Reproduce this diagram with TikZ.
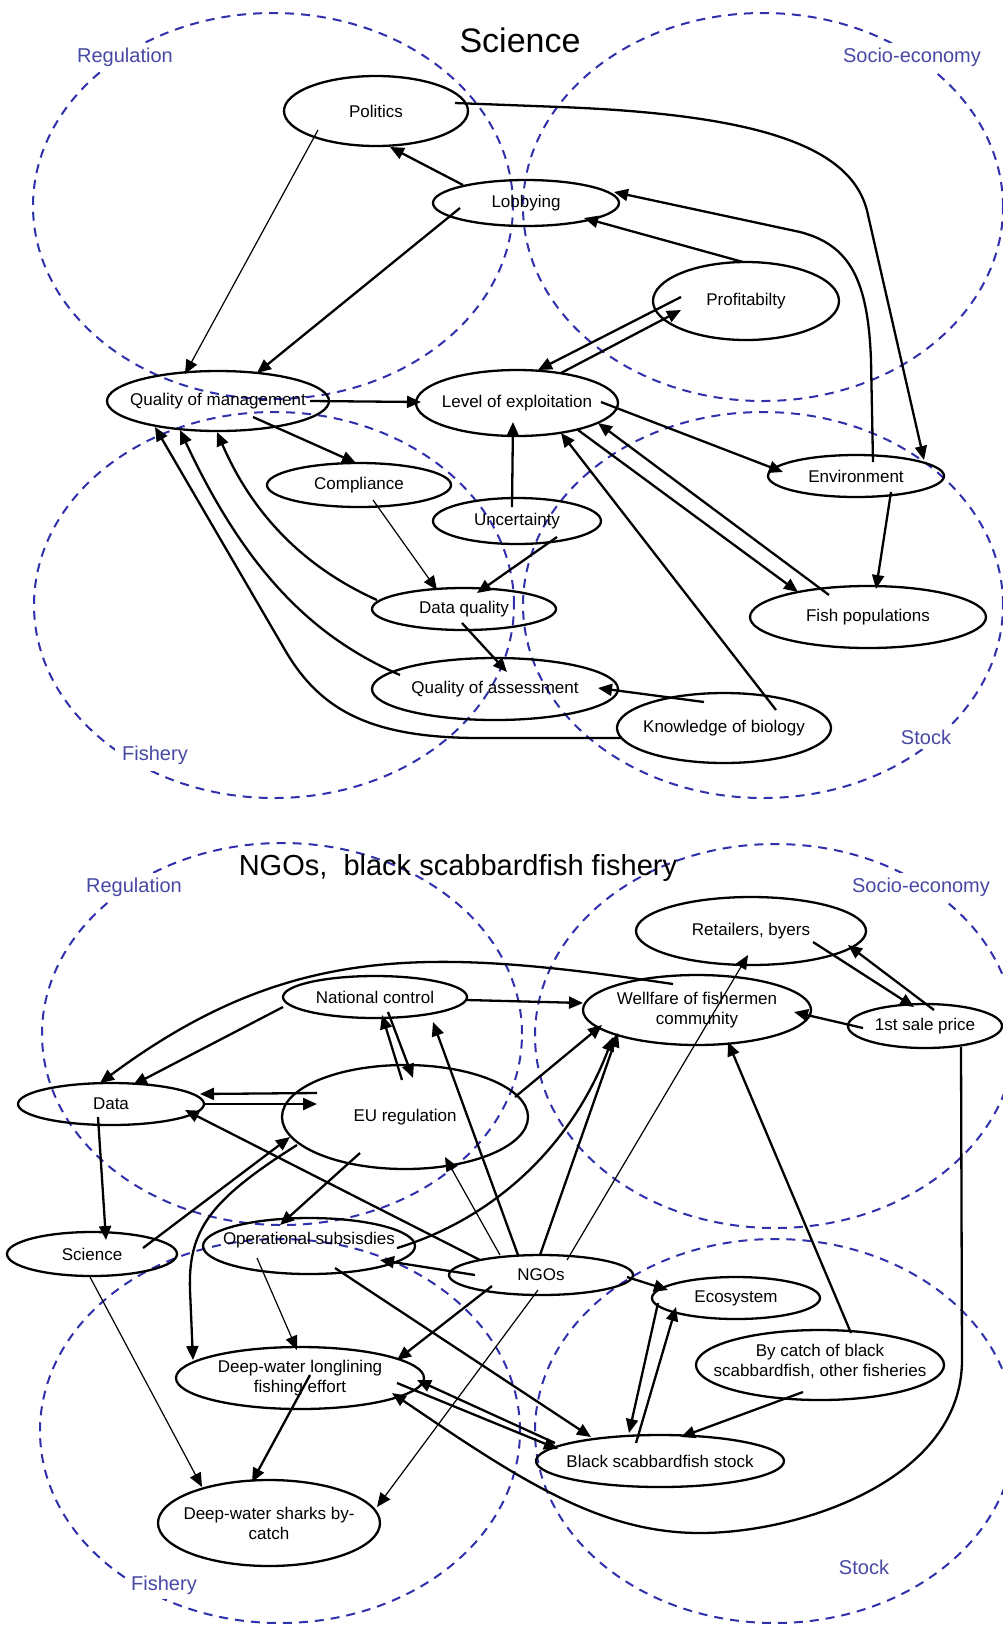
\documentclass[tikz,border=0pt]{standalone}
\usepackage{fontspec}
\setmainfont{Liberation Sans}
\usetikzlibrary{arrows.meta,shapes.geometric,calc}
\definecolor{zonecol}{RGB}{48,48,172}
\definecolor{labcol}{RGB}{72,72,165}
\newcommand{\ndfont}{\fontsize{17}{20}\selectfont}
\begin{document}
\begin{tikzpicture}[x=1pt,y=-1pt,
  nd/.style={draw, ellipse, line width=2.3pt, inner sep=0pt},
  lbl/.style={font=\ndfont, align=center, inner sep=0pt},
  arr/.style={line width=2.3pt, -{Triangle[length=14pt,width=12pt]}},
  tarr/.style={line width=1.2pt, -{Triangle[length=14pt,width=12pt]}},
  zone/.style={draw=zonecol, line width=2pt, dash pattern=on 9pt off 7pt},
  zlab/.style={text=labcol, fill=white, font=\fontsize{20}{24}\selectfont, inner sep=5pt},
  ttl/.style={font=\fontsize{34}{40}\selectfont, inner sep=0pt},
  ttlb/.style={font=\fontsize{29}{34}\selectfont, inner sep=0pt},
]
\useasboundingbox (0,0) rectangle (1002,1626);
\fill[white] (0,0) rectangle (1002,1626);

% ---------- zones ----------
\draw[zone] (273,206) ellipse [x radius=240pt, y radius=193pt];
\draw[zone] (763,207) ellipse [x radius=240pt, y radius=194pt];
\draw[zone] (274,605) ellipse [x radius=240pt, y radius=193pt];
\draw[zone] (763,605) ellipse [x radius=240pt, y radius=193pt];
\draw[zone] (282,1034) ellipse [x radius=240pt, y radius=191pt];
\draw[zone] (775,1036) ellipse [x radius=240pt, y radius=192pt];
\draw[zone] (280,1431) ellipse [x radius=240pt, y radius=192pt];
\draw[zone] (775,1431) ellipse [x radius=240pt, y radius=192pt];

\node[zlab] (zreg1) at (125,57) {Regulation};
\node[zlab] (zsoc1) at (912,57) {Socio-economy};
\node[zlab, inner sep=7pt] (zfis1) at (155,755) {Fishery};
\node[zlab] (zsto1) at (926,737) {Stock};
\node[zlab] (zreg2) at (134,887) {Regulation};
\node[zlab] (zsoc2) at (921,887) {Socio-economy};
\node[zlab] (zfis2) at (164,1585) {Fishery};
\node[zlab] (zsto2) at (864,1567) {Stock};
\node[ttl] (ttl1) at (520,40) {Science};
\node[ttlb] (ttl2) at (458,868) {NGOs,\ \ black scabbardfish fishery};

% ---------- top nodes ----------
\node[nd, minimum width=184pt, minimum height=70pt, label={[lbl]center:Politics}] (pol) at (376,111) {};
\node[nd, minimum width=186pt, minimum height=46pt, label={[lbl]center:Lobbying}] (lob) at (526,203) {};
\node[nd, minimum width=186pt, minimum height=78pt, label={[lbl]center:Profitabilty}] (prof) at (746,301) {};
\node[nd, minimum width=222pt, minimum height=60pt, label={[lbl]center:Quality of management}] (qom) at (218,401) {};
\node[nd, minimum width=202pt, minimum height=66pt, label={[lbl]center:Level of exploitation}] (loe) at (517,403) {};
\node[nd, minimum width=176pt, minimum height=42pt, label={[lbl]center:Environment}] (env) at (856,476) {};
\node[nd, minimum width=184pt, minimum height=44pt, label={[lbl]center:Compliance}] (comp) at (359,485) {};
\node[nd, minimum width=168pt, minimum height=46pt, label={[lbl]center:Uncertainty}] (unc) at (517,521) {};
\node[nd, minimum width=184pt, minimum height=42pt, label={[lbl]center:Data quality}] (dq) at (464,609) {};
\node[nd, minimum width=236pt, minimum height=62pt, label={[lbl]center:Fish populations}] (fp) at (868,617) {};
\node[nd, minimum width=246pt, minimum height=62pt, label={[lbl]center:Quality of assessment}] (qoa) at (495,689) {};
\node[nd, minimum width=214pt, minimum height=70pt, label={[lbl]center:Knowledge of biology}] (kob) at (724,728) {};

% ---------- top connectors ----------
\draw[tarr] ($(pol)+(-58,19)$) -- ($(qom)+(-33,-27)$);
\draw[arr] ($(lob)+(-63,-18)$) -- ($(pol)+(14,36)$);
\draw[arr] ($(lob)+(-66,5)$) -- ($(qom)+(39,-28)$);
\draw[arr] ($(pol)+(79,-8)$) -- (560,107) .. controls (770,115) and (855,150) .. (868,215) -- ($(env)+(68,-16)$);
\draw[arr] ($(env)+(17,-14)$) -- (871,360) .. controls (868,280) and (850,245) .. (800,232) -- ($(lob)+(88,-11)$);
\draw[arr] ($(prof)+(-3,-39)$) -- ($(lob)+(58,15)$);
\draw[arr] ($(loe)+(44,-30)$) -- ($(prof)+(-65,9)$);
\draw[arr] ($(prof)+(-65,-4)$) -- ($(loe)+(21,-33)$);
\draw[arr] ($(qom)+(92,0)$) -- ($(loe)+(-96,-1)$);
\draw[arr] ($(qom)+(35,16)$) -- ($(comp)+(-3,-22)$);
\draw[tarr] ($(comp)+(14,15)$) -- ($(dq)+(-27,-19)$);
\draw[arr] ($(unc)+(-5,-14)$) -- ($(loe)+(-4,19)$);
\draw[arr] ($(unc)+(40,16)$) -- ($(dq)+(13,-16)$);
\draw[arr] ($(dq)+(-2,14)$) -- ($(qoa)+(12,-17)$);
\draw[arr] ($(dq)+(-87,-9)$) .. controls (310,570) and (255,520) .. ($(qom)+(-1,31)$);
\draw[arr] ($(qoa)+(-95,-14)$) .. controls (320,640) and (250,580) .. ($(qom)+(-38,29)$);
\draw[arr] ($(kob)+(-103,10)$) -- (480,738) .. controls (370,738) and (320,710) .. (285,650) -- ($(qom)+(-63,26)$);
\draw[arr] ($(kob)+(-20,-26)$) -- ($(qoa)+(103,-1)$);
\draw[arr] ($(kob)+(52,-18)$) -- ($(loe)+(44,30)$);
\draw[arr] ($(loe)+(84,-1)$) -- ($(env)+(-73,-4)$);
\draw[arr] ($(loe)+(61,27)$) -- ($(fp)+(-70,-25)$);
\draw[arr] ($(fp)+(-39,-22)$) -- ($(loe)+(81,20)$);
\draw[arr] ($(env)+(35,16)$) -- ($(fp)+(8,-28)$);

% ---------- bottom nodes ----------
\node[nd, minimum width=230pt, minimum height=68pt, label={[lbl]center:{Retailers, byers}}] (ret) at (751,931) {};
\node[nd, minimum width=228pt, minimum height=70pt, label={[lbl]center:{Wellfare of fishermen\\community}}] (wel) at (697,1010) {};
\node[nd, minimum width=154pt, minimum height=44pt, label={[lbl]center:1st sale price}] (fsp) at (925,1026) {};
\node[nd, minimum width=184pt, minimum height=42pt, label={[lbl]center:National control}] (nc) at (375,997) {};
\node[nd, minimum width=186pt, minimum height=42pt, label={[lbl]center:Data}] (data) at (111,1104) {};
\node[nd, minimum width=246pt, minimum height=104pt, label={[lbl]center:EU regulation}] (eu) at (405,1117) {};
\node[nd, minimum width=170pt, minimum height=44pt, label={[lbl]center:Science}] (sci) at (92,1254) {};
\node[nd, minimum width=212pt, minimum height=56pt, label={[lbl, yshift=6pt]center:Operational subsisdies}] (os) at (309,1246) {};
\node[nd, minimum width=184pt, minimum height=40pt, label={[lbl]center:NGOs}] (ngo) at (541,1275) {};
\node[nd, minimum width=168pt, minimum height=42pt, label={[lbl]center:Ecosystem}] (eco) at (736,1298) {};
\node[nd, minimum width=248pt, minimum height=70pt, label={[lbl, yshift=4pt]center:{By catch of black\\scabbardfish, other fisheries}}] (byc) at (820,1365) {};
\node[nd, minimum width=248pt, minimum height=52pt, label={[lbl]center:Black scabbardfish stock}] (bss) at (660,1461) {};
\node[nd, minimum width=248pt, minimum height=62pt, label={[lbl]center:{Deep-water longlining\\fishing effort}}] (dwl) at (300,1378) {};
\node[nd, minimum width=222pt, minimum height=86pt, label={[lbl]center:{Deep-water sharks by-\\catch}}] (dws) at (269,1523) {};

% ---------- bottom connectors ----------
\draw[arr] ($(wel)+(-24,-26)$) .. controls (430,948) and (290,942) .. ($(data)+(-11,-21)$);
\draw[arr] ($(nc)+(-92,10)$) -- ($(data)+(22,-19)$);
\draw[arr] ($(eu)+(-88,-24)$) -- ($(data)+(89,-10)$);
\draw[arr] ($(data)+(92,0)$) -- ($(eu)+(-88,-13)$);
\draw[arr] ($(ngo)+(-61,-15)$) -- ($(data)+(74,6)$);
\draw[arr] ($(data)+(-13,13)$) -- ($(sci)+(14,-14)$);
\draw[arr] ($(sci)+(51,-6)$) -- ($(eu)+(-115,20)$);
\draw[arr] ($(eu)+(-108,28)$) .. controls (210,1200) and (188,1230) .. (190,1290) -- ($(dwl)+(-107,-18)$);
\draw[arr] ($(eu)+(-45,36)$) -- ($(os)+(-29,-21)$);
\draw[arr] ($(eu)+(-3,-37)$) -- ($(nc)+(7,18)$);
\draw[arr] ($(nc)+(13,15)$) -- ($(eu)+(8,-39)$);
\draw[arr] ($(nc)+(92,3)$) -- ($(wel)+(-114,-7)$);
\draw[arr] ($(ngo)+(-23,-20)$) -- ($(nc)+(58,25)$);
\draw[tarr] ($(ngo)+(-41,-20)$) -- ($(eu)+(40,40)$);
\draw[arr] ($(ngo)+(-1,-20)$) -- ($(wel)+(-79,23)$);
\draw[tarr] ($(ngo)+(26,-15)$) -- ($(ret)+(-3,24)$);
\draw[arr] ($(eu)+(110,-20)$) -- ($(wel)+(-95,15)$);
\draw[arr] ($(os)+(88,2)$) .. controls (490,1220) and (570,1150) .. ($(wel)+(-84,27)$);
\draw[arr] ($(fsp)+(-62,2)$) -- ($(wel)+(97,2)$);
\draw[arr] ($(ret)+(62,11)$) -- ($(fsp)+(-11,-19)$);
\draw[arr] ($(fsp)+(9,-16)$) -- ($(ret)+(97,14)$);
\draw[arr] ($(fsp)+(36,21)$) -- (962,1360) .. controls (962,1480) and (800,1533) .. (700,1533) .. controls (600,1533) and (520,1480) .. ($(dwl)+(92,15)$);
\draw[arr] ($(bss)+(-105,-18)$) -- ($(dwl)+(117,2)$);
\draw[arr] ($(dwl)+(97,5)$) -- ($(bss)+(-102,-12)$);
\draw[arr] ($(os)+(26,22)$) -- ($(bss)+(-69,-24)$);
\draw[tarr] ($(os)+(-52,12)$) -- ($(dwl)+(-3,-28)$);
\draw[arr] ($(ngo)+(-66,0)$) -- ($(os)+(71,14)$);
\draw[arr] ($(ngo)+(-49,11)$) -- ($(dwl)+(97,-18)$);
\draw[arr] ($(ngo)+(86,2)$) -- ($(eco)+(-68,-8)$);
\draw[arr] ($(eco)+(-78,5)$) -- ($(bss)+(-31,-28)$);
\draw[arr] ($(bss)+(-24,-18)$) -- ($(eco)+(-60,9)$);
\draw[arr] ($(byc)+(-17,27)$) -- ($(bss)+(21,-24)$);
\draw[arr] ($(byc)+(31,-32)$) -- ($(wel)+(31,32)$);
\draw[tarr] ($(sci)+(-2,23)$) -- ($(dws)+(-67,-36)$);
\draw[arr] ($(dwl)+(10,-3)$) -- ($(dws)+(-17,-41)$);
\draw[tarr] ($(ngo)+(-3,15)$) -- ($(dws)+(108,-16)$);
\end{tikzpicture}
\end{document}
